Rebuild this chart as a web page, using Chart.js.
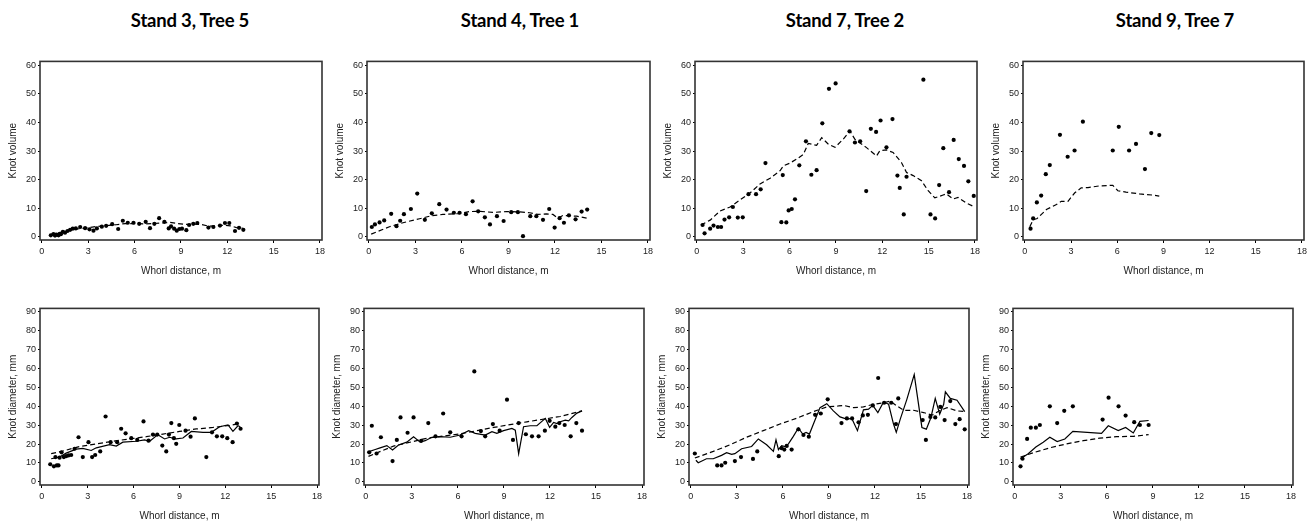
<!DOCTYPE html>
<html>
<head>
<meta charset="utf-8">
<script src="https://cdn.jsdelivr.net/npm/chart.js@4.4.1/dist/chart.umd.min.js"></script>
<style>
  body { margin: 0; background: #fff; width: 1314px; height: 522px; position: relative; overflow: hidden; }
  .title { position: absolute; top: 9px; font: 700 18.5px Lato, "Liberation Sans", sans-serif; color: #000; transform: translateX(-50%); white-space: nowrap; letter-spacing: -0.2px; }
  canvas { position: absolute; }
</style>
</head>
<body>
<div class="title" style="left:190px">Stand 3, Tree 5</div>
<div class="title" style="left:520px">Stand 4, Tree 1</div>
<div class="title" style="left:845px">Stand 7, Tree 2</div>
<div class="title" style="left:1175px">Stand 9, Tree 7</div>
<script>
const ticksX = [0, 3, 6, 9, 12, 15, 18]
const ticksVolume = [0, 10, 20, 30, 40, 50, 60]
const ticksDiameter = [0, 10, 20, 30, 40, 50, 60, 70, 80, 90]

// Stand 3, Tree 5
const s3t5Volume = [[0.58,0.5],[0.75,0.9],[0.85,0.4],[0.95,0.7],[1.08,0.5],[1.15,1.0],[1.23,0.9],[1.36,1.7],[1.5,1.4],[1.66,2.0],[1.83,2.4],[2.0,2.8],[2.2,2.9],[2.48,3.4],[2.8,3.0],[3.08,2.6],[3.34,2.1],[3.56,2.9],[3.88,3.5],[4.16,3.8],[4.55,4.4],[4.94,2.7],[5.24,5.6],[5.56,4.9],[5.93,4.9],[6.3,4.5],[6.72,5.2],[7.0,3.0],[7.28,4.5],[7.59,6.5],[7.93,5.2],[8.21,2.9],[8.36,3.6],[8.56,2.8],[8.73,2.1],[8.9,2.7],[9.07,2.8],[9.35,2.3],[9.53,4.1],[9.8,4.5],[10.06,4.8],[10.78,3.2],[11.1,3.4],[11.53,3.9],[11.85,4.8],[12.13,4.8],[12.5,2.0],[12.76,3.1],[13.04,2.4]]
const s3t5VolumeFit = [[0.6,0.8],[1.2,1.5],[1.8,2.3],[2.4,2.8],[3.0,3.2],[3.6,3.6],[4.2,3.9],[4.8,4.2],[5.4,4.6],[6.0,4.6],[6.6,4.5],[7.2,4.6],[7.8,4.8],[8.3,5.0],[8.8,4.6],[9.3,4.3],[9.8,4.4],[10.3,4.3],[10.8,3.7],[11.3,3.8],[11.8,4.0],[12.2,3.8],[12.6,3.2],[13.0,3.0]]
const s3t5Diameter = [[0.55,9.3],[0.79,8.2],[0.98,8.7],[1.09,8.7],[0.89,13.1],[1.16,12.8],[1.29,15.6],[1.44,13.1],[1.59,13.6],[1.75,14.0],[1.92,14.2],[2.14,17.5],[2.4,23.6],[2.68,13.1],[3.05,21.0],[3.29,13.1],[3.49,14.2],[3.82,16.1],[4.17,34.6],[4.5,21.0],[4.93,21.0],[5.19,28.1],[5.48,25.7],[5.85,23.1],[6.24,22.2],[6.65,32.0],[6.98,21.8],[7.27,25.0],[7.55,25.0],[7.88,19.2],[8.14,16.1],[8.31,25.0],[8.47,31.1],[8.64,23.1],[8.79,20.1],[8.99,30.1],[9.4,27.1],[9.73,23.9],[10.01,33.6],[10.76,13.1],[11.13,26.2],[11.45,24.1],[11.8,24.1],[12.13,23.1],[12.48,21.0],[12.76,30.9],[13.0,28.1]]
const s3t5DiameterMean = [[0.61,12.2],[1.16,13.1],[1.59,15.2],[2.25,17.3],[2.68,17.7],[3.23,16.6],[3.56,18.0],[4.43,19.7],[4.87,18.9],[5.3,21.0],[6.18,21.5],[6.72,22.2],[7.05,21.5],[7.59,25.0],[8.03,22.7],[8.36,23.6],[8.79,22.7],[9.23,23.2],[9.78,26.7],[10.54,26.2],[11.09,26.2],[11.63,29.2],[12.18,30.2],[12.5,26.7],[12.83,29.7],[12.98,29.2]]
const s3t5DiameterFit = [[0.61,14.9],[1.37,16.3],[2.46,18.7],[3.56,20.1],[4.64,21.5],[5.74,22.7],[6.83,23.9],[7.92,25.3],[9.01,26.7],[10.1,28.0],[11.2,28.8],[12.28,29.9],[12.98,30.9]]

// Stand 4, Tree 1
const s4t1Volume = [[0.19,3.4],[0.39,4.3],[0.69,5.0],[0.99,5.7],[1.44,8.0],[1.78,3.7],[2.02,5.6],[2.26,7.9],[2.71,9.7],[3.12,15.1],[3.61,5.9],[4.06,8.2],[4.54,11.4],[5.01,9.5],[5.48,8.4],[5.85,8.4],[6.26,7.9],[6.69,12.4],[7.05,8.9],[7.48,6.8],[7.81,4.3],[8.26,7.2],[8.69,5.5],[9.18,8.6],[9.61,8.6],[9.94,0.2],[10.41,7.2],[10.8,7.2],[11.23,5.9],[11.63,9.7],[11.98,3.2],[12.3,6.5],[12.58,4.9],[12.9,7.5],[13.33,6.1],[13.72,8.8],[14.08,9.5]]
const s4t1VolumeFit = [[0.15,0.9],[1.33,3.5],[2.2,4.9],[3.27,6.3],[4.0,7.3],[4.77,7.8],[5.85,8.1],[6.5,8.8],[7.14,8.9],[8.0,8.5],[8.86,8.8],[9.72,8.7],[10.37,8.4],[10.9,7.8],[11.44,8.0],[11.87,7.8],[12.2,6.5],[12.5,7.4],[13.4,7.2],[14.08,6.5]]
const s4t1Diameter = [[0.22,15.6],[0.39,29.7],[0.7,15.0],[0.98,23.6],[1.74,11.0],[2.02,22.2],[2.26,34.1],[2.72,26.0],[3.11,34.1],[3.61,21.7],[4.07,31.1],[4.54,24.1],[5.04,36.2],[5.5,26.2],[6.24,24.1],[7.07,58.5],[7.5,26.9],[7.78,24.1],[8.28,30.6],[8.72,27.1],[9.2,43.5],[9.59,22.2],[9.96,31.1],[10.43,25.2],[10.83,24.1],[11.26,24.1],[11.67,27.1],[11.98,32.3],[12.35,29.2],[12.61,31.1],[12.96,30.1],[13.35,24.1],[13.72,31.1],[14.09,27.1]]
const s4t1DiameterMean = [[0.11,15.7],[0.61,17.1],[0.93,18.0],[1.37,19.2],[1.74,16.9],[2.13,19.5],[2.67,21.0],[3.11,23.9],[3.54,21.0],[3.87,21.8],[4.3,23.6],[4.85,23.9],[5.5,23.6],[6.15,24.8],[6.7,27.1],[7.13,25.7],[7.78,24.8],[8.22,26.6],[8.54,25.7],[8.98,27.1],[9.52,28.3],[9.74,27.4],[9.96,14.9],[10.28,29.2],[10.72,29.7],[11.15,29.7],[11.7,33.6],[11.98,28.8],[12.24,31.5],[12.46,30.9],[12.67,31.8],[13.0,32.7],[13.22,32.3],[13.43,34.1],[13.76,36.4],[14.09,37.6]]
const s4t1DiameterFit = [[0.17,13.5],[1.8,18.9],[3.98,23.1],[6.15,25.4],[8.33,28.8],[10.5,31.8],[12.67,34.6],[14.09,37.6]]

// Stand 7, Tree 2
const s7t2Volume = [[0.37,4.1],[0.5,1.2],[0.86,2.8],[1.08,3.9],[1.36,3.4],[1.57,3.4],[1.79,6.0],[2.09,6.8],[2.33,10.4],[2.65,6.7],[2.97,6.8],[3.34,14.9],[3.83,14.9],[4.13,16.6],[4.44,25.8],[5.47,5.1],[5.56,21.6],[5.79,5.0],[5.94,9.2],[6.14,9.7],[6.35,13.1],[6.63,25.0],[7.06,33.4],[7.41,21.7],[7.75,23.3],[8.12,39.7],[8.55,51.8],[8.98,53.7],[9.88,36.9],[10.23,33.0],[10.57,33.4],[10.96,16.0],[11.26,37.8],[11.6,36.7],[11.89,40.7],[12.27,31.3],[12.66,41.2],[12.98,21.4],[13.13,17.1],[13.39,7.8],[13.57,21.0],[14.66,55.0],[15.12,7.8],[15.42,6.4],[15.68,18.1],[15.95,31.0],[16.32,15.6],[16.62,33.9],[16.95,27.2],[17.29,24.8],[17.57,19.4],[17.92,14.3]]
const s7t2VolumeFit = [[0.26,4.1],[0.86,5.8],[1.5,9.0],[2.15,10.4],[2.8,12.9],[3.44,15.3],[4.09,18.5],[4.74,20.5],[5.38,23.1],[5.6,24.8],[6.03,25.8],[6.46,27.2],[6.89,28.8],[7.21,32.7],[7.75,32.0],[8.08,34.7],[8.51,32.4],[8.94,31.3],[9.48,34.2],[9.91,37.0],[10.23,34.1],[10.98,31.2],[11.63,28.3],[11.84,30.1],[12.27,30.4],[12.7,29.5],[13.24,26.0],[13.57,22.5],[14.0,21.4],[14.54,19.6],[14.97,16.1],[15.4,13.6],[15.94,14.6],[16.15,15.0],[16.58,13.2],[16.9,13.8],[17.44,11.8],[17.98,10.4]]
const s7t2Diameter = [[0.26,15.0],[1.72,8.7],[2.0,8.7],[2.24,10.1],[2.87,11.0],[3.27,13.1],[4.05,12.1],[4.33,16.1],[5.73,13.6],[5.92,17.8],[6.09,17.1],[6.25,19.0],[6.57,17.1],[7.01,27.8],[7.34,24.8],[7.69,23.9],[8.1,35.5],[8.47,36.2],[8.92,43.7],[9.82,31.1],[10.17,33.6],[10.51,33.6],[10.93,31.5],[11.21,35.2],[11.54,35.5],[11.86,40.5],[12.21,55.0],[12.6,41.9],[13.06,41.9],[13.37,30.6],[13.52,44.2],[15.11,32.7],[15.32,22.2],[15.61,34.4],[15.93,34.1],[16.26,39.7],[16.54,32.7],[16.91,42.8],[17.24,30.6],[17.52,33.2],[17.85,27.8]]
const s7t2DiameterMean = [[0.33,11.4],[0.48,10.1],[1.02,12.2],[1.46,12.2],[2.0,14.0],[2.33,15.4],[2.66,14.5],[2.87,14.9],[3.31,17.5],[3.96,18.7],[4.4,22.7],[4.94,19.6],[5.38,16.1],[5.55,22.2],[5.71,17.0],[5.92,19.2],[6.14,18.7],[6.36,20.1],[6.68,24.1],[7.01,28.5],[7.29,25.3],[7.51,26.2],[7.73,25.3],[7.99,30.6],[8.42,39.3],[8.86,41.4],[9.29,37.6],[9.72,34.4],[10.16,33.2],[10.49,33.6],[10.86,27.1],[11.25,38.1],[11.58,38.5],[11.86,40.5],[12.19,36.7],[12.56,42.3],[12.89,41.1],[13.21,30.6],[13.39,26.2],[13.65,33.2],[14.08,43.7],[14.56,56.8],[15.06,28.8],[15.35,27.9],[15.65,34.1],[15.93,44.2],[16.22,35.9],[16.48,41.1],[16.59,47.7],[16.91,44.2],[17.35,43.2],[17.85,37.2]]
const s7t2DiameterFit = [[0.26,12.6],[1.46,16.1],[2.55,19.6],[3.63,23.6],[4.72,27.1],[5.81,30.6],[6.9,33.7],[7.99,37.2],[8.86,39.7],[9.62,40.2],[9.95,40.5],[10.6,39.3],[11.25,39.7],[11.9,41.1],[12.56,41.9],[13.0,42.8],[13.43,40.2],[13.87,37.9],[14.52,37.9],[15.17,36.7],[15.72,35.3],[16.26,37.9],[16.7,39.3],[17.35,37.6],[17.85,37.2]]

// Stand 9, Tree 7
const s9t7Volume = [[0.37,2.8],[0.54,6.4],[0.78,12.0],[1.06,14.4],[1.36,21.9],[1.62,25.1],[2.28,35.7],[2.78,28.0],[3.23,30.2],[3.77,40.3],[5.71,30.2],[6.1,38.5],[6.77,30.2],[7.22,32.5],[7.8,23.7],[8.21,36.3],[8.73,35.6]]
const s9t7VolumeFit = [[0.32,3.5],[0.54,5.9],[0.8,6.4],[1.4,9.5],[2.05,11.3],[2.37,12.4],[2.8,12.4],[3.23,15.3],[3.66,17.1],[4.1,17.2],[4.85,17.8],[5.71,18.0],[6.04,16.1],[6.57,15.6],[7.44,15.0],[8.3,14.6],[8.73,14.2]]
const s9t7Diameter = [[0.37,8.2],[0.5,12.2],[0.8,22.7],[1.04,28.7],[1.37,28.7],[1.63,30.1],[2.28,40.0],[2.76,31.1],[3.22,37.6],[3.78,40.0],[5.72,33.0],[6.11,44.6],[6.76,40.0],[7.22,35.1],[7.78,31.6],[8.15,30.1],[8.72,30.1]]
const s9t7DiameterMean = [[0.37,12.2],[0.87,14.9],[1.37,18.4],[1.85,21.0],[2.28,23.6],[2.76,21.3],[3.26,22.7],[3.78,26.7],[5.65,25.7],[6.09,29.7],[6.74,27.1],[7.22,28.8],[7.72,25.9],[8.15,32.0],[8.72,32.5]]
const s9t7DiameterFit = [[0.37,13.1],[1.2,15.4],[2.28,18.0],[3.37,20.1],[4.46,21.8],[5.54,23.1],[6.63,23.9],[7.72,24.1],[8.72,25.0]]

const tickFont = { family: 'Liberation Sans, Arial, sans-serif', size: 9 }
const titleFont = { family: 'Liberation Sans, Arial, sans-serif', size: 10 }

// box around the plotting area
const frame = {
  id: 'frame',
  afterDatasetsDraw(chart) {
    const { ctx, chartArea: a } = chart
    ctx.save()
    ctx.strokeStyle = '#333'
    ctx.lineWidth = 1.6
    ctx.strokeRect(a.left, a.top, a.right - a.left, a.bottom - a.top)
    ctx.restore()
  }
}

const toXY = arr => arr.map(p => ({ x: p[0], y: p[1] }))

function dots(arr) {
  return { data: toXY(arr), showLine: false, pointRadius: 2.1, pointBackgroundColor: '#000', pointBorderWidth: 0 }
}
function line(arr, dashed) {
  return { data: toXY(arr), showLine: true, borderColor: '#000', borderWidth: 1.2, borderDash: dashed ? [5, 3] : [], pointRadius: 0, tension: 0 }
}

function panel(box, yTicks, yMin, yMax, yTitle, datasets) {
  const [L, R, T, B] = box
  const cv = document.createElement('canvas')
  const w = R - L + 48, h = B - T + 46
  cv.width = w
  cv.height = h
  cv.style.left = (L - 40) + 'px'
  cv.style.top = (T - 6) + 'px'
  document.body.appendChild(cv)
  new Chart(cv, {
    type: 'scatter',
    data: { datasets },
    plugins: [frame],
    options: {
      responsive: false,
      animation: false,
      layout: { padding: { left: 0, right: 8, top: 6, bottom: 0 } },
      plugins: { legend: { display: false }, tooltip: { enabled: false } },
      scales: {
        x: {
          type: 'linear', min: -0.12, max: 18.13,
          afterBuildTicks: s => { s.ticks = ticksX.map(v => ({ value: v })) },
          afterFit: s => { s.height = 40 },
          border: { display: false },
          grid: { drawOnChartArea: false, drawTicks: true, tickLength: 3, color: '#000' },
          ticks: { font: tickFont, color: '#222', padding: 3, maxRotation: 0, autoSkip: false },
          title: { display: true, text: 'Whorl distance, m', font: titleFont, color: '#222', padding: { top: 0, bottom: 3 } }
        },
        y: {
          type: 'linear', min: yMin, max: yMax,
          afterBuildTicks: s => { s.ticks = yTicks.map(v => ({ value: v })) },
          afterFit: s => { s.width = 40 },
          border: { display: false },
          grid: { drawOnChartArea: false, drawTicks: true, tickLength: 2, color: '#000' },
          ticks: { font: tickFont, color: '#222', padding: 2, autoSkip: false },
          title: { display: true, text: yTitle, font: titleFont, color: '#222', padding: { top: 7, bottom: 0 } }
        }
      }
    }
  })
}

// top row: knot volume
panel([40, 322, 60, 240], ticksVolume, -1.15, 61.4, 'Knot volume', [dots(s3t5Volume), line(s3t5VolumeFit, true)])
panel([367, 650, 60, 240], ticksVolume, -1.15, 61.4, 'Knot volume', [dots(s4t1Volume), line(s4t1VolumeFit, true)])
panel([695, 977, 60, 240], ticksVolume, -1.15, 61.4, 'Knot volume', [dots(s7t2Volume), line(s7t2VolumeFit, true)])
panel([1023, 1304, 60, 240], ticksVolume, -1.15, 61.4, 'Knot volume', [dots(s9t7Volume), line(s9t7VolumeFit, true)])

// bottom row: knot diameter
panel([40, 319, 307, 485], ticksDiameter, -1.7, 91.9, 'Knot diameter, mm', [dots(s3t5Diameter), line(s3t5DiameterMean, false), line(s3t5DiameterFit, true)])
panel([364, 644, 307, 485], ticksDiameter, -1.7, 91.9, 'Knot diameter, mm', [dots(s4t1Diameter), line(s4t1DiameterMean, false), line(s4t1DiameterFit, true)])
panel([689, 969, 307, 485], ticksDiameter, -1.7, 91.9, 'Knot diameter, mm', [dots(s7t2Diameter), line(s7t2DiameterMean, false), line(s7t2DiameterFit, true)])
panel([1013, 1293, 307, 485], ticksDiameter, -1.7, 91.9, 'Knot diameter, mm', [dots(s9t7Diameter), line(s9t7DiameterMean, false), line(s9t7DiameterFit, true)])
</script>
</body>
</html>
